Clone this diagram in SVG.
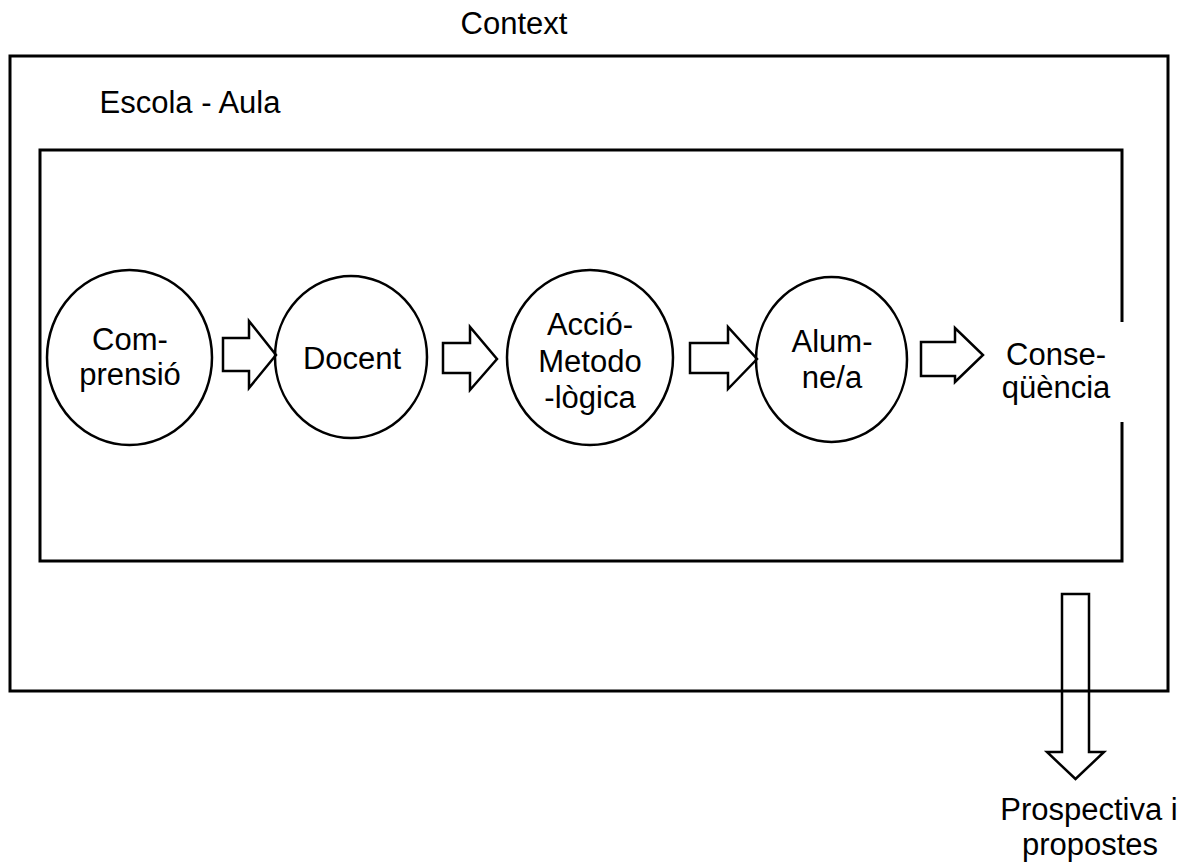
<svg xmlns="http://www.w3.org/2000/svg" width="1192" height="863" viewBox="0 0 1192 863">
  <style>
    .frame { fill: none; stroke: #000; stroke-width: 3; }
    .node { fill: none; stroke: #000; stroke-width: 2.5; }
    .arrow { fill: none; stroke: #000; stroke-width: 2.5; stroke-linejoin: miter; }
    text { font-family: "Liberation Sans", Arial, sans-serif; font-size: 31px; fill: #000; text-anchor: middle; }
  </style>
  <rect width="1192" height="863" fill="#fff"/>

  <!-- Context frame -->
  <g id="context">
    <rect class="frame" x="10" y="56" width="1158" height="635"/>
    <text x="514" y="34">Context</text>
  </g>

  <!-- School / classroom frame, open on the right side -->
  <g id="escola-aula">
    <path class="frame" d="M1122,322 V150 H40 V561 H1122 V422"/>
    <text x="190" y="113">Escola - Aula</text>
  </g>

  <g id="comprensio">
    <ellipse class="node" cx="129.5" cy="357.5" rx="82.5" ry="87.5"/>
    <text x="130" y="350">Com-</text>
    <text x="130" y="385">prensió</text>
  </g>

  <g id="docent">
    <ellipse class="node" cx="351" cy="357" rx="76" ry="81"/>
    <text x="352" y="369">Docent</text>
  </g>

  <g id="accio-metodologica">
    <ellipse class="node" cx="590" cy="357.5" rx="83" ry="87.5"/>
    <text x="590" y="335">Acció-</text>
    <text x="590" y="372">Metodo</text>
    <text x="590" y="408">-lògica</text>
  </g>

  <g id="alumne">
    <ellipse class="node" cx="831.5" cy="359.5" rx="75.5" ry="82.5"/>
    <text x="832" y="352">Alum-</text>
    <text x="832" y="388">ne/a</text>
  </g>

  <g id="consequencia">
    <text x="1056" y="365">Conse-</text>
    <text x="1056" y="398">qüència</text>
  </g>

  <g id="prospectiva">
    <text x="1089" y="820">Prospectiva i</text>
    <text x="1090" y="855">propostes</text>
  </g>

  <!-- Block arrows between the stages -->
  <g id="connectors">
    <path class="arrow" d="M223,338 H249 V321 L276,355 L249,388 V371 H223 Z"/>
    <path class="arrow" d="M443,343 H470 V327 L497,359 L470,390 V373 H443 Z"/>
    <path class="arrow" d="M690,343 H728 V327 L757,359 L728,389 V373 H690 Z"/>
    <path class="arrow" d="M921,342 H955 V328 L983,355 L955,382 V376 H921 Z"/>
    <path class="arrow" d="M1062,594 H1089 V752 H1104 L1075.5,779 L1047,752 H1062 Z"/>
  </g>
</svg>
